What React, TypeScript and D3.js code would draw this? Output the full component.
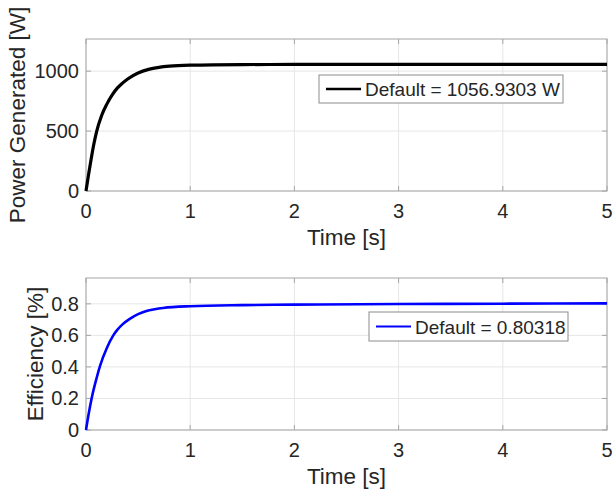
import React from "react";
import * as d3 from "d3";

// ---- data ----
const timeTicks = [0, 1, 2, 3, 4, 5];
const powerTicks = [0, 500, 1000];
const effTicks = [0, 0.2, 0.4, 0.6, 0.8];

const powerT = [0, 0.025, 0.05, 0.075, 0.1, 0.15, 0.2, 0.25, 0.3, 0.35, 0.4, 0.5, 0.6, 0.7, 0.8, 1.0, 1.5, 2, 3, 4, 5];
const powerV = [0, 140, 270, 390, 490, 630, 725, 800, 858, 900, 935, 985, 1015, 1032, 1042, 1050, 1055, 1056, 1057, 1057, 1057];

const effT = [0, 0.025, 0.054, 0.1, 0.134, 0.2, 0.262, 0.3, 0.35, 0.42, 0.5, 0.58, 0.66, 0.74, 1.0, 1.5, 2, 3, 4, 5];
const effV = [0, 0.1, 0.2, 0.325, 0.405, 0.52, 0.6, 0.635, 0.67, 0.705, 0.735, 0.755, 0.766, 0.774, 0.785, 0.792, 0.795, 0.799, 0.801, 0.803];

const powerLegend = "Default = 1056.9303 W";
const effLegend = "Default = 0.80318";
const powerMax = 1268.3;
const effMax = 0.9638;

const FONT = "'Liberation Sans', Arial, Helvetica, sans-serif";
const TXT = "#262626";
const BOX = "#a6a6a6";
const GRID = "#e6e6e6";

type PanelProps = {
  top: number;
  bottom: number;
  ts: number[];
  vs: number[];
  ymax: number;
  yTicks: number[];
  yFmt: (v: number) => string;
  color: string;
  lw: number;
  ylabel: string;
  ylabelX: number;
  legend: string;
  legBox: [number, number, number, number];
};

const X0 = 86;
const X1 = 607;

function Panel(p: PanelProps) {
  const x = d3.scaleLinear().domain([0, 5]).range([X0, X1]);
  const y = d3.scaleLinear().domain([0, p.ymax]).range([p.bottom, p.top]);
  const data = p.ts.map((t, i) => [t, p.vs[i]] as [number, number]);
  const line = d3
    .line<[number, number]>()
    .x((d) => x(d[0]))
    .y((d) => y(d[1]))
    .curve(d3.curveMonotoneX);
  const [lx, ly, lw, lh] = p.legBox;
  const tl = 5;
  return (
    <g>
      <rect x={X0} y={p.top} width={X1 - X0} height={p.bottom - p.top} fill="#fff" />
      {timeTicks.map((t) => (
        <line key={"gx" + t} x1={x(t)} x2={x(t)} y1={p.top} y2={p.bottom} stroke={GRID} strokeWidth={1} />
      ))}
      {p.yTicks.map((v) => (
        <line key={"gy" + v} x1={X0} x2={X1} y1={y(v)} y2={y(v)} stroke={GRID} strokeWidth={1} />
      ))}
      {timeTicks.map((t) => (
        <g key={"tx" + t}>
          <line x1={x(t)} x2={x(t)} y1={p.bottom} y2={p.bottom - tl} stroke={BOX} />
          <line x1={x(t)} x2={x(t)} y1={p.top} y2={p.top + tl} stroke={BOX} />
        </g>
      ))}
      {p.yTicks.map((v) => (
        <g key={"ty" + v}>
          <line x1={X0} x2={X0 + tl} y1={y(v)} y2={y(v)} stroke={BOX} />
          <line x1={X1} x2={X1 - tl} y1={y(v)} y2={y(v)} stroke={BOX} />
        </g>
      ))}
      <rect x={X0} y={p.top} width={X1 - X0} height={p.bottom - p.top} fill="none" stroke={BOX} strokeWidth={1} />
      <path d={line(data) || ""} fill="none" stroke={p.color} strokeWidth={p.lw} strokeLinejoin="round" />
      {timeTicks.map((t) => (
        <text key={"lx" + t} x={x(t)} y={p.bottom + 27} textAnchor="middle" fontSize={20} fill={TXT} fontFamily={FONT}>
          {t}
        </text>
      ))}
      {p.yTicks.map((v) => (
        <text key={"ly" + v} x={X0 - 7} y={y(v) + 7} textAnchor="end" fontSize={20} fill={TXT} fontFamily={FONT}>
          {p.yFmt(v)}
        </text>
      ))}
      <text x={(X0 + X1) / 2} y={p.bottom + 54} textAnchor="middle" fontSize={22.5} fill={TXT} fontFamily={FONT}>
        Time [s]
      </text>
      <text
        transform={`translate(${p.ylabelX},${(p.top + p.bottom) / 2}) rotate(-90)`}
        textAnchor="middle"
        fontSize={22.5}
        fill={TXT}
        fontFamily={FONT}
      >
        {p.ylabel}
      </text>
      <rect x={lx} y={ly} width={lw} height={lh} fill="#fff" stroke="#8c8c8c" strokeWidth={1} />
      <line x1={lx + 7} x2={lx + 42} y1={ly + lh / 2} y2={ly + lh / 2} stroke={p.color} strokeWidth={p.lw - 0.5} />
      <text x={lx + 46} y={ly + lh / 2 + 7} fontSize={19} fill={TXT} fontFamily={FONT}>
        {p.legend}
      </text>
    </g>
  );
}

export default function App() {
  return (
    <svg width={614} height={497} style={{ position: "absolute", left: 0, top: 0, background: "#fff" }}>
      <rect width={614} height={497} fill="#fff" />
      <Panel
        top={39}
        bottom={191}
        ts={powerT}
        vs={powerV}
        ymax={powerMax}
        yTicks={powerTicks}
        yFmt={(v) => String(v)}
        color="#000000"
        lw={3.2}
        ylabel="Power Generated [W]"
        ylabelX={25}
        legend={powerLegend}
        legBox={[319, 75, 244, 28]}
      />
      <Panel
        top={278}
        bottom={430}
        ts={effT}
        vs={effV}
        ymax={effMax}
        yTicks={effTicks}
        yFmt={(v) => (v === 0 ? "0" : d3.format(".1f")(v))}
        color="#0000ff"
        lw={2.6}
        ylabel="Efficiency [%]"
        ylabelX={43}
        legend={effLegend}
        legBox={[369, 312, 199, 29]}
      />
    </svg>
  );
}
